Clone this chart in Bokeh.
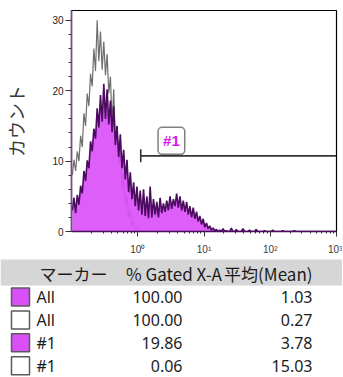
import numpy as np
from bokeh.plotting import figure
from bokeh.models import Range1d, FixedTicker, CustomJSTickFormatter, Label
from bokeh.layouts import column
from bokeh.embed import file_html
from bokeh.resources import INLINE
from bokeh.core.properties import value

# ---------------- data ----------------
log_start = -1.0      # histogram starts at 10^-1
log_step = 0.025      # bin width in decades

# filled histogram (All, filled swatch)
purple_counts = [
    3.0, 4.8, 2.6, 5.2, 3.8, 6.5, 5.4, 8.6, 7.2, 10.1,
    9.0, 12.8, 11.4, 14.6, 13.2, 17.5, 14.8, 19.4, 15.6, 21.0,
    16.0, 20.2, 15.2, 18.6, 14.1, 17.8, 12.3, 15.0, 10.6, 13.8,
    9.0, 11.6, 7.4, 10.2, 5.6, 8.4, 4.6, 7.0, 3.6, 6.4,
    3.0, 5.8, 2.4, 6.0, 2.2, 5.0, 1.9, 6.4, 2.0, 4.6,
    2.4, 4.2, 2.0, 4.8, 2.6, 4.0, 2.8, 4.4, 3.0, 5.0,
    3.2, 4.6, 3.6, 5.4, 3.4, 5.0, 3.0, 4.4, 2.8, 4.2,
    2.4, 3.6, 2.0, 3.4, 1.8, 2.8, 1.4, 2.2, 1.0, 1.8,
    0.6, 1.2, 0.4, 0.8, 0.2, 0.5, 0.1, 0.3, 0.0, 0.2,
    0.0, 0.4, 0.0, 0.1, 0.0, 0.0, 0.5, 0.0, 0.0, 0.3,
    0.0, 0.0, 0.0, 0.4, 0.0, 0.0, 0.0, 0.2, 0.0, 0.0,
    0.0, 0.3, 0.0, 0.0, 0.0, 0.0, 0.1, 0.0, 0.0, 0.0,
    0.0, 0.2, 0.0, 0.0, 0.0, 0.0, 0.0, 0.1, 0.0, 0.0,
    0.0, 0.0, 0.0, 0.0, 0.1, 0.0, 0.0, 0.0, 0.0, 0.0,
    0.0, 0.0, 0.0, 0.0, 0.0, 0.0, 0.0, 0.0, 0.0, 0.0,
    0.0, 0.0, 0.0, 0.0, 0.0, 0.0, 0.0, 0.0, 0.0, 0.0,
]

# open histogram (All, empty swatch)
grey_counts = [
    8.0, 10.2, 8.6, 11.4, 10.0, 13.6, 12.0, 16.8, 15.0, 19.6,
    17.8, 22.4, 20.6, 26.0, 22.8, 30.0, 24.2, 28.4, 23.0, 27.0,
    22.2, 25.2, 19.6, 22.0, 15.4, 20.2, 12.2, 15.0, 9.4, 11.8,
    5.8, 8.2, 3.6, 5.0, 2.0, 3.2, 0.8, 1.4, 0.2, 0.5, 0.0,
]

marker_name = "#1"
marker_lo = 1.11
marker_hi = 1000.0
marker_y = 10.75

y_major = [0, 10, 20, 30]
y_minor = [2, 4, 6, 8, 12, 14, 16, 18, 22, 24, 26, 28]
x_major = [1, 10, 100, 1000]
x_minor = [0.2, 0.3, 0.4, 0.5, 0.6, 0.7, 0.8, 0.9,
           2, 3, 4, 5, 6, 7, 8, 9,
           20, 30, 40, 50, 60, 70, 80, 90,
           200, 300, 400, 500, 600, 700, 800, 900]
x_labels = {"0": "10⁰", "1": "10¹", "2": "10²", "3": "10³"}

header = ["マーカー", "% Gated X-A", "平均(Mean)"]
row_marker = ["All", "All", "#1", "#1"]
row_filled = [True, False, True, False]
row_gated = ["100.00", "100.00", "19.86", "0.06"]
row_mean = ["1.03", "0.27", "3.78", "15.03"]

# ---------------- styles ----------------
MAGENTA = "#DA50F8"
DARK_PURPLE = "#4B0B5E"
GREY = "#6E6E6E"
TEXT = "#1C1C1C"

# ---------------- chart ----------------
p = figure(width=342, height=257, x_axis_type="log",
           x_range=Range1d(0.1, 1000), y_range=Range1d(0, 31.4),
           output_backend="svg", toolbar_location=None,
           min_border_left=68, min_border_right=6,
           min_border_top=10, min_border_bottom=25)
p.frame_align = False
p.grid.visible = False
p.outline_line_color = "black"
p.outline_line_width = 1.2
p.background_fill_color = "white"

xp = 10 ** (log_start + log_step * (np.arange(len(purple_counts)) + 0.5))
xg = 10 ** (log_start + log_step * (np.arange(len(grey_counts)) + 0.5))

p.line(xg, grey_counts, line_color=GREY, line_width=1.2)
p.varea(x=xp, y1=np.zeros(len(purple_counts)), y2=purple_counts,
        fill_color=MAGENTA, fill_alpha=0.92)
p.line(xp, purple_counts, line_color=DARK_PURPLE, line_width=1.6)

# marker range
p.segment(x0=[marker_lo], y0=[marker_y], x1=[marker_hi], y1=[marker_y],
          line_color="#333333", line_width=1.6)
p.segment(x0=[marker_lo], y0=[marker_y - 0.92], x1=[marker_lo], y1=[marker_y + 0.92],
          line_color="#333333", line_width=1.6)
lab = Label(x=3.22, y=12.88, text=marker_name, text_color="#D21CE6",
            text_font_style="bold", text_font_size="15px",
            text_font="Liberation Sans",
            text_align="center", text_baseline="middle",
            background_fill_color="white", border_line_color="#808080",
            border_line_width=1.5, padding=5, border_radius=4)
p.add_layout(lab)

# y axis
ya = p.yaxis[0]
ya.ticker = FixedTicker(ticks=y_major, minor_ticks=y_minor)
ya.axis_line_color = "#7A4A9A"
ya.axis_line_width = 1.6
ya.major_tick_line_color = "#333333"
ya.minor_tick_line_color = "#333333"
ya.major_tick_out = 6
ya.major_tick_in = 0
ya.minor_tick_out = 3
ya.minor_tick_in = 0
ya.major_label_text_font = "Liberation Sans"
ya.major_label_text_font_size = "10px"
ya.major_label_text_color = TEXT
ya.major_label_standoff = 2
ya.axis_label = "カウント"
ya.axis_label_text_font = "Noto Sans CJK JP"
ya.axis_label_text_font_size = "18px"
ya.axis_label_text_font_style = "normal"
ya.axis_label_text_color = "#3A3A3A"
ya.axis_label_standoff = 20

# x axis
xa = p.xaxis[0]
xa.ticker = FixedTicker(ticks=x_major, minor_ticks=x_minor)
xa.formatter = CustomJSTickFormatter(args=dict(labels=x_labels),
                                     code="return labels[String(Math.round(Math.log10(tick)))] || '';")
xa.axis_line_color = DARK_PURPLE
xa.axis_line_width = 1.6
xa.major_tick_line_color = "#333333"
xa.minor_tick_line_color = "#333333"
xa.major_tick_out = 5
xa.major_tick_in = 0
xa.minor_tick_out = 2
xa.minor_tick_in = 0
xa.major_label_text_font = "Liberation Sans"
xa.major_label_text_font_size = "10px"
xa.major_label_text_color = "#3A3A3A"
xa.major_label_standoff = 7

# ---------------- statistics table ----------------
TW, TH = 342, 119
t = figure(width=TW, height=TH, x_range=Range1d(0, TW), y_range=Range1d(TH, 0),
           output_backend="svg", toolbar_location=None, min_border=0)
t.frame_align = False
t.axis.visible = False
t.grid.visible = False
t.outline_line_color = None

t.quad(left=[0], right=[TW], top=[2], bottom=[28], fill_color="#D6D6D6", line_color=None)
t.text(x=[39], y=[16], text=header[:1],
       text_font=value("Noto Sans CJK JP"), text_font_size="17px",
       text_baseline="middle", text_align="left", text_color=TEXT)
t.text(x=[173.5], y=[16], text=header[1:2],
       text_font=value("Noto Sans CJK JP"), text_font_size="17px",
       text_baseline="middle", text_align="center", text_color=TEXT)
t.text(x=[312], y=[16], text=header[2:],
       text_font=value("Noto Sans CJK JP"), text_font_size="17px",
       text_baseline="middle", text_align="right", text_color=TEXT)

row_y = 39.5 + 22.9 * np.arange(len(row_marker))
t.rect(x=np.full(len(row_y), 20.0), y=row_y, width=18, height=18,
       fill_color=[MAGENTA if f else "white" for f in row_filled],
       line_color="#5A5A5A", line_width=1.5)
t.text(x=np.full(len(row_y), 36.0), y=row_y, text=row_marker,
       text_font=value("Noto Sans"), text_font_size="16px",
       text_baseline="middle", text_align="left", text_color=TEXT)
t.text(x=np.full(len(row_y), 182.0), y=row_y, text=row_gated,
       text_font=value("Noto Sans"), text_font_size="16px",
       text_baseline="middle", text_align="right", text_color=TEXT)
t.text(x=np.full(len(row_y), 312.0), y=row_y, text=row_mean,
       text_font=value("Noto Sans"), text_font_size="16px",
       text_baseline="middle", text_align="right", text_color=TEXT)

layout = column(p, t, spacing=0)
open("out.html", "w").write(file_html(layout, INLINE))
